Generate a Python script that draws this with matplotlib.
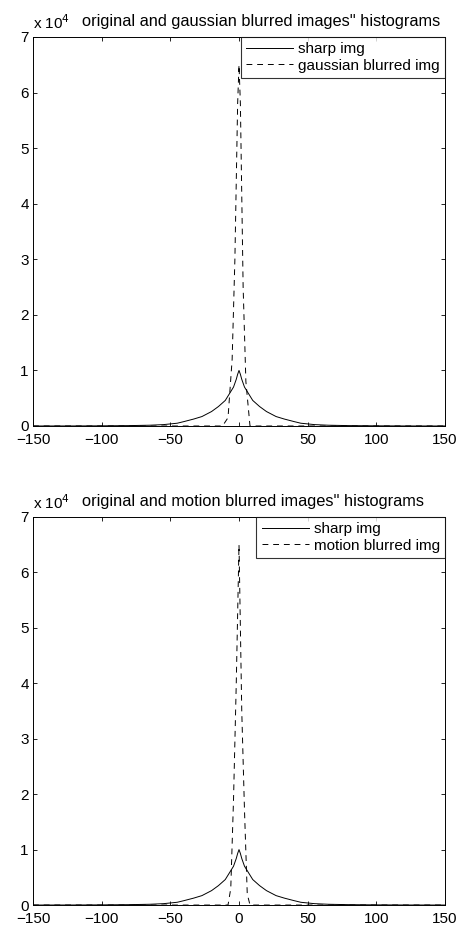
import numpy as np
import matplotlib
matplotlib.use('Agg')
import matplotlib.pyplot as plt
from matplotlib.ticker import FuncFormatter

plt.rcParams['font.family'] = ['Liberation Sans', 'DejaVu Sans']

# histogram of the sharp image (same in both panels)
sharpX = [-150, -120, -100, -80, -65, -55, -45, -40, -33, -27, -20, -15, -10, -7, -4, -2, -1, 0,
          1, 2, 4, 7, 10, 15, 20, 27, 33, 40, 45, 55, 65, 80, 100, 120, 150]
sharpY = [0, 10, 30, 70, 140, 250, 500, 800, 1250, 1700, 2600, 3500, 4600, 5800, 7000, 8400, 9300, 10000,
          9300, 8400, 7000, 5800, 4600, 3500, 2600, 1700, 1250, 800, 500, 250, 140, 70, 30, 10, 0]

# gaussian blurred image histogram
gaussX = [-150, -12, -8, -5, -3, -1, 0, 1, 3, 5, 8, 150]
gaussY = [0, 0, 1500, 12000, 30000, 58000, 65000, 58000, 25000, 8000, 0, 0]

# motion blurred image histogram
motionX = [-150, -8, -6, -4, -2, 0, 2, 4, 6, 8, 150]
motionY = [0, 0, 3000, 19000, 40000, 65000, 35000, 17000, 2000, 0, 0]

titles = ["original and gaussian blurred images'' histograms",
          "original and motion blurred images'' histograms"]
blurLabels = ['gaussian blurred img', 'motion blurred img']

fig = plt.figure(figsize=(4.65, 9.34), dpi=100)
axTop = fig.add_axes([0.071, 0.5439, 0.886, 0.4165])
axBot = fig.add_axes([0.071, 0.031, 0.886, 0.4155])

for ax, blurX, blurY, title, lab in [(axTop, gaussX, gaussY, titles[0], blurLabels[0]),
                                     (axBot, motionX, motionY, titles[1], blurLabels[1])]:
    ax.plot(sharpX, sharpY, color='black', linewidth=0.7, label='sharp img')
    ax.plot(blurX, blurY, color='black', linewidth=0.7, dashes=(6, 5), label=lab)
    ax.set_xlim(-150, 150)
    ax.set_ylim(0, 70000)
    ax.set_xticks(np.arange(-150, 151, 50))
    ax.set_yticks(np.arange(0, 70001, 10000))
    ax.yaxis.set_major_formatter(FuncFormatter(lambda v, p: '%g' % (v / 1e4)))
    ax.tick_params(direction='in', length=3, width=0.6, top=True, right=True, labelsize=11)
    ax.tick_params(axis='x', pad=5)
    ax.tick_params(axis='y', pad=3)
    for s in ax.spines.values():
        s.set_linewidth(0.7)
    ax.text(0.0, 1.012, r'x 10$^{4}$', transform=ax.transAxes, fontsize=11,
            ha='left', va='bottom')
    ax.text(0.118, 1.02, title, transform=ax.transAxes, fontsize=11.8,
            ha='left', va='bottom')
    leg = ax.legend(loc='upper right', fontsize=11, frameon=True, fancybox=False,
                    borderaxespad=0.0, handlelength=3.1, handletextpad=0.3,
                    labelspacing=0.15, borderpad=0.35)
    leg.get_frame().set_edgecolor('black')
    leg.get_frame().set_linewidth(0.8)

plt.savefig('out.png', dpi=100)
